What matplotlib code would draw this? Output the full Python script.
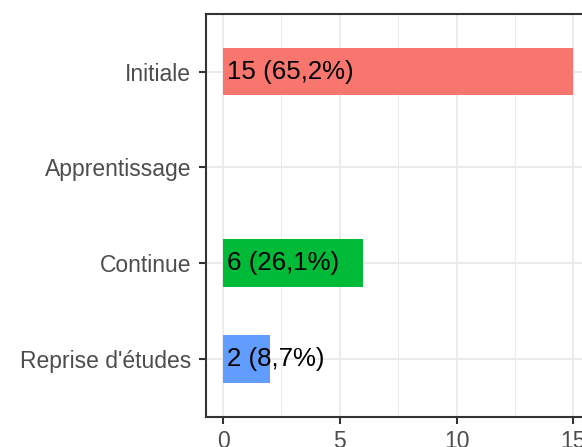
import matplotlib
matplotlib.use("Agg")
import matplotlib.pyplot as plt
from matplotlib.ticker import MultipleLocator

categories = ["Initiale", "Apprentissage", "Continue", "Reprise d'études"]
counts = [15, 0, 6, 2]
labels = ["15 (65,2%)", "", "6 (26,1%)", "2 (8,7%)"]
colors = ["#F8766D", "#F8766D", "#00BA38", "#619CFF"]
xticks = [0, 5, 10, 15]

plt.rcParams['font.family'] = ['Liberation Sans', 'DejaVu Sans']

W, H = 582, 447
fig = plt.figure(figsize=(W / 100, H / 100), dpi=100)
left, right, top, bottom = 205.5, 590.8, 14.0, 416.7
ax = fig.add_axes([left / W, 1 - bottom / H, (right - left) / W, (bottom - top) / H])

ypos = list(range(len(categories)))
for y, c, col in zip(ypos, counts, colors):
    if c > 0:
        ax.barh(y, c, height=0.5, color=col, zorder=2)
for y, c, lab in zip(ypos, counts, labels):
    if lab:
        ax.annotate(lab, xy=(0, y), xytext=(4, 0), textcoords="offset pixels",
                    ha="left", va="center", fontsize=18.6, color="black", zorder=3)

ax.set_xlim(-0.75, 15.75)
ax.set_ylim(3.6, -0.6)
ax.set_yticks(ypos)
ax.set_yticklabels(categories)
ax.set_xticks(xticks)
ax.xaxis.set_minor_locator(MultipleLocator(2.5))

ax.grid(True, which="major", color="#EBEBEB", linewidth=1.4, zorder=0)
ax.grid(True, which="minor", axis="x", color="#EBEBEB", linewidth=0.7, zorder=0)
ax.set_axisbelow(True)

for s in ax.spines.values():
    s.set_color("#333333")
    s.set_linewidth(1.5)

ax.tick_params(axis="both", which="major", length=5.3, width=1.5, color="#333333",
               labelcolor="#4D4D4D", labelsize=16.5)
ax.tick_params(axis="y", pad=5)
ax.tick_params(axis="x", pad=4)
ax.tick_params(which="minor", length=0)

fig.savefig("out.png", dpi=100)
